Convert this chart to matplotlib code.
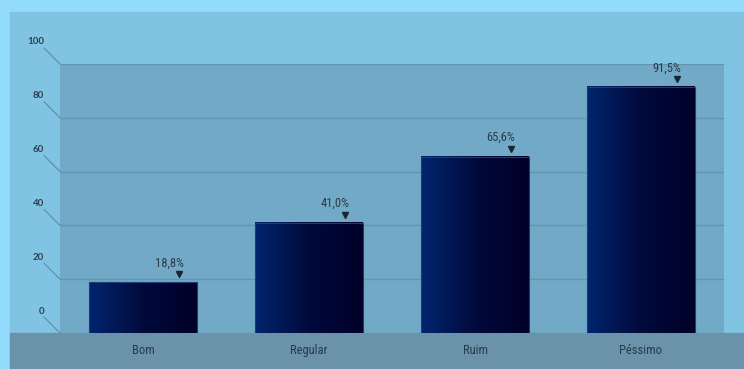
import numpy as np
import matplotlib
matplotlib.use('Agg')
from matplotlib import pyplot as plt
from matplotlib.patches import Rectangle
from matplotlib.colors import LinearSegmentedColormap
import matplotlib.transforms as mtransforms

categories = ['Bom', 'Regular', 'Ruim', 'Péssimo']
values = [18.8, 41.0, 65.6, 91.5]
value_labels = ['18,8%', '41,0%', '65,6%', '91,5%']
y_ticks = [0, 20, 40, 60, 80, 100]

COND = ['Roboto Condensed', 'Asap Condensed', 'Archivo Narrow', 'DejaVu Sans']
GEO = ['Lato', 'DejaVu Sans']

W, H = 744, 369
fig = plt.figure(figsize=(W / 100, H / 100), dpi=100)
fig.patch.set_facecolor('#93dbfb')

# outer panel and floor strip, in figure pixels (behind the axes)
fig.patches.append(Rectangle((10 / W, 0), 1, (H - 12) / H,
                             transform=fig.transFigure, color='#80c3e3', zorder=-2))
fig.patches.append(Rectangle((10 / W, 0), 1, (H - 333) / H,
                             transform=fig.transFigure, color='#6a93a9', zorder=-1))

# back wall
ax = fig.add_axes([60 / W, (H - 333) / H, (724 - 60) / W, (333 - 64) / H])
ax.set_facecolor('#72a9c6')
for s in ax.spines.values():
    s.set_visible(False)
ax.set_yticks([])
for t in y_ticks:
    ax.axhline(t, color='#6295b1', lw=1, zorder=1)

# y labels with slanted leader lines
for t in y_ticks:
    ax.annotate('', xy=(0, t), xycoords=('axes fraction', 'data'),
                xytext=(-16, 16), textcoords='offset pixels',
                arrowprops=dict(arrowstyle='-', color='#5c8ca8', lw=0.8,
                                shrinkA=0, shrinkB=0),
                annotation_clip=False)
    ax.annotate(str(t), xy=(0, t), xycoords=('axes fraction', 'data'),
                xytext=(-16, 22), textcoords='offset pixels',
                ha='right', va='center', fontsize=7, color='#2f3f4a',
                family=GEO, weight='bold', annotation_clip=False)

# gradient bars
cmap = LinearSegmentedColormap.from_list('bar', ['#02256f', '#010a3c', '#000028'])
grad = np.linspace(0, 1, 256).reshape(1, -1)
x = np.arange(len(categories))
width = 0.645
for xi, v in zip(x, values):
    ax.imshow(grad, cmap=cmap, aspect='auto', zorder=2,
              extent=(xi - width / 2, xi + width / 2, 0, v))
    ax.add_patch(Rectangle((xi - width / 2, 0), width, v, fill=False,
                           edgecolor='#1d3d78', lw=0.8, zorder=3))
ax.set_xlim(-0.5, 3.5)
ax.set_ylim(0, 100)

# value labels with small arrows
for xi, v, lab in zip(x, values, value_labels):
    ax.annotate(lab, xy=(xi, v), xytext=(26, 19), textcoords='offset pixels',
                ha='center', va='center', fontsize=9, color='#2c3a45',
                family=COND)
    tr = mtransforms.offset_copy(ax.transData, fig=fig, x=36, y=8, units='dots')
    ax.plot([xi], [v], marker='v', markersize=4, color='#1c2630',
            transform=tr, zorder=4, clip_on=False)

ax.set_xticks(x)
ax.set_xticklabels(categories, fontsize=9, color='#27394a', family=COND)
ax.tick_params(axis='x', length=0, pad=8)

fig.savefig('out.png', dpi=100)
